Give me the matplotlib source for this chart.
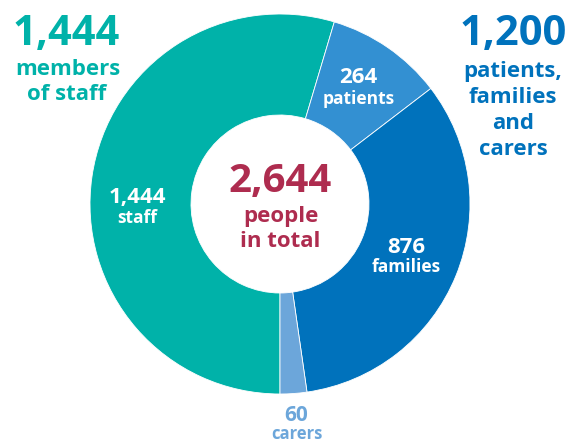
import matplotlib
matplotlib.use("Agg")
import matplotlib.pyplot as plt

# Breakdown of people involved
categories = ["staff", "patients", "families", "carers"]
values = [1444, 264, 876, 60]
colors = ["#00B2A9", "#3390D2", "#0072BC", "#6CA6DA"]

total = sum(values)
patients_families_carers = values[1] + values[2] + values[3]

W, H = 566, 442
fig = plt.figure(figsize=(W / 100, H / 100), dpi=100)
ax = fig.add_axes([0, 0, 1, 1])

FONT = "Open Sans"


def Y(py):
    """Convert a top-down pixel row into data y."""
    return H - py


cx, cy = 280, 204
r_out, r_in = 190, 89

ax.pie(values, colors=colors, startangle=-90, counterclock=False,
       radius=r_out, center=(cx, Y(cy)),
       wedgeprops=dict(width=r_out - r_in, edgecolor="white", linewidth=0.6))

ax.set_xlim(0, W)
ax.set_ylim(0, H)
ax.set_aspect("equal")
ax.axis("off")


def txt(x, py, s, size, color):
    ax.text(x, Y(py), s, ha="center", va="baseline", fontsize=size,
            color=color, fontweight="bold", family=FONT)


def fmt(v):
    return f"{v:,}"


teal, dark_blue, maroon = "#00B2A9", "#0072BC", "#AE2C4F"

# Headline: staff
txt(66, 45, fmt(values[0]), 30, teal)
txt(68, 75, "members", 16, teal)
txt(67, 100, "of staff", 16, teal)

# Headline: patients, families and carers
txt(513, 45, fmt(patients_families_carers), 30, dark_blue)
txt(513, 77, "patients,", 16, dark_blue)
txt(513, 103, "families", 16, dark_blue)
txt(513, 129, "and", 16, dark_blue)
txt(513, 155, "carers", 16, dark_blue)

# Centre total
txt(280, 192, fmt(total), 29, maroon)
txt(281, 222, "people", 16, maroon)
txt(280, 247, "in total", 16, maroon)

# Segment labels
txt(137, 203, fmt(values[0]), 16, "white")
txt(137, 223, "staff", 12.5, "white")
txt(358, 83, fmt(values[1]), 16, "white")
txt(359, 104, "patients", 12.5, "white")
txt(406, 253, fmt(values[2]), 16, "white")
txt(406, 272, "families", 12.5, "white")
txt(296, 421, fmt(values[3]), 15, colors[3])
txt(297, 439, "carers", 12, colors[3])

fig.savefig("out.png", dpi=100)
